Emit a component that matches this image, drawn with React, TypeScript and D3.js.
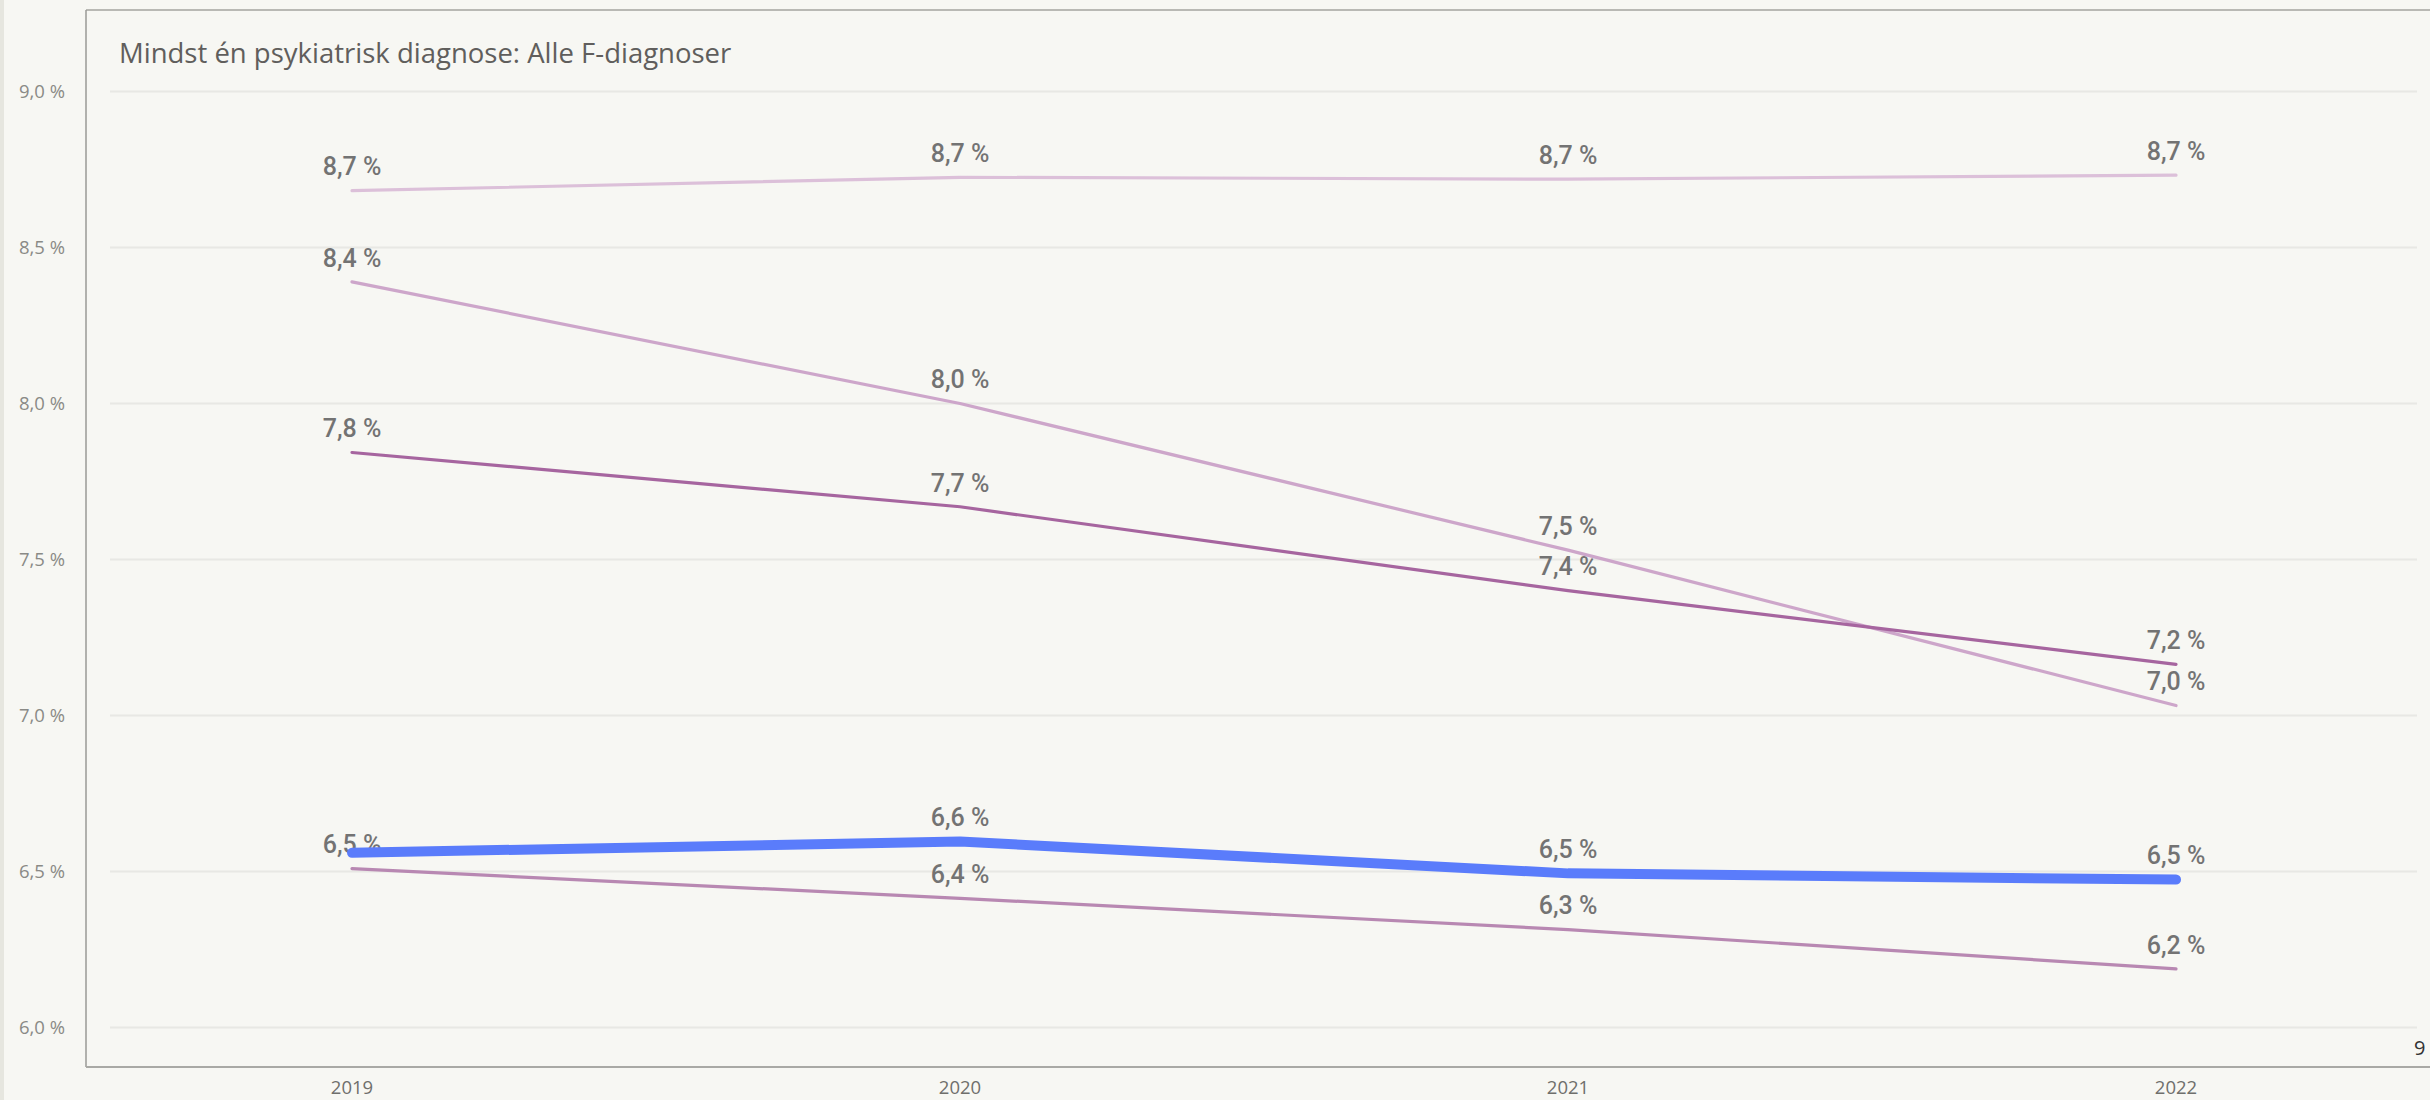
import React from 'react';
import * as d3 from 'd3';

const years = ['2019', '2020', '2021', '2022'];
const seriesTop = [8.682, 8.725, 8.719, 8.732];
const seriesFalling = [8.39, 8.0, 7.53, 7.032];
const seriesMid = [7.843, 7.669, 7.40, 7.164];
const seriesBlue = [6.560, 6.596, 6.494, 6.474];
const seriesLow = [6.509, 6.414, 6.314, 6.188];
const blueLabelShown = [false, true, true, true];
const yTicks = [6, 6.5, 7, 7.5, 8, 8.5, 9];
const title = 'Mindst én psykiatrisk diagnose: Alle F-diagnoser';

const W = 2430;
const H = 1100;

const fmt = (v: number) => d3.format('.1f')(v).replace('.', ',') + ' %';

export default function App() {
  const x = d3.scalePoint<string>().domain(years).range([352, 2176]);
  const y = d3.scaleLinear().domain([6, 9]).range([1027.5, 91.5]);
  const line = d3
    .line<number>()
    .x((_, i) => x(years[i]) as number)
    .y((d) => y(d));

  const series = [
    { values: seriesTop, color: '#dcc0d9', width: 3.2, labels: [true, true, true, true] },
    { values: seriesFalling, color: '#cda6ca', width: 3.2, labels: [true, true, true, true] },
    { values: seriesMid, color: '#a6659f', width: 3.2, labels: [true, true, true, true] },
    { values: seriesLow, color: '#b888b2', width: 3.2, labels: [true, true, true, true] },
    { values: seriesBlue, color: '#5a7cfb', width: 10, labels: blueLabelShown },
  ];

  return (
    <svg
      width={W}
      height={H}
      style={{ position: 'absolute', left: 0, top: 0, display: 'block' }}
    >
      <rect x={0} y={0} width={W} height={H} fill="#f7f7f3" />
      <rect x={0} y={0} width={4} height={H} fill="#e6e6df" />
      {/* panel border */}
      <line x1={86} x2={W} y1={10} y2={10} stroke="#b9b9b4" strokeWidth={2} />
      <line x1={86} x2={86} y1={10} y2={1067} stroke="#9a9a96" strokeWidth={1.5} />
      <line x1={86} x2={W} y1={1067} y2={1067} stroke="#a9a9a5" strokeWidth={2} />

      <text
        x={119}
        y={63}
        fontFamily="'Open Sans', sans-serif"
        fontSize={27.5}
        fill="#605e5c"
      >
        {title}
      </text>

      {/* gridlines and y labels */}
      {yTicks.map((t) => (
        <g key={t}>
          <line x1={110} x2={2417} y1={y(t)} y2={y(t)} stroke="#e8e8e4" strokeWidth={2} />
          <text
            x={65}
            y={y(t)}
            dy="0.35em"
            textAnchor="end"
            fontFamily="'Open Sans', sans-serif"
            fontSize={18.5}
            fill="#8a8a86"
          >
            {fmt(t)}
          </text>
        </g>
      ))}

      {/* x labels */}
      {years.map((yr) => (
        <text
          key={yr}
          x={x(yr)}
          y={1088}
          dy="0.35em"
          textAnchor="middle"
          fontFamily="'Open Sans', sans-serif"
          fontSize={18.5}
          fill="#6f6f6c"
        >
          {yr}
        </text>
      ))}

      {/* data labels */}
      {series.map((s, si) =>
        s.values.map((v, i) =>
          s.labels[i] ? (
            <text
              key={`l${si}-${i}`}
              x={x(years[i])}
              y={y(v) - 24}
              dy="0.35em"
              textAnchor="middle"
              fontFamily="Roboto, sans-serif"
              fontWeight={500}
              fontSize={25}
              fill="#737373"
            >
              {fmt(v)}
            </text>
          ) : null
        )
      )}

      {/* lines */}
      {series.map((s, si) => (
        <path
          key={`p${si}`}
          d={line(s.values) as string}
          fill="none"
          stroke={s.color}
          strokeWidth={s.width}
          strokeLinecap="round"
          strokeLinejoin="round"
        />
      ))}

      <text
        x={2414}
        y={1055}
        fontFamily="'Open Sans', sans-serif"
        fontSize={20}
        fill="#333"
      >
        9
      </text>
    </svg>
  );
}
